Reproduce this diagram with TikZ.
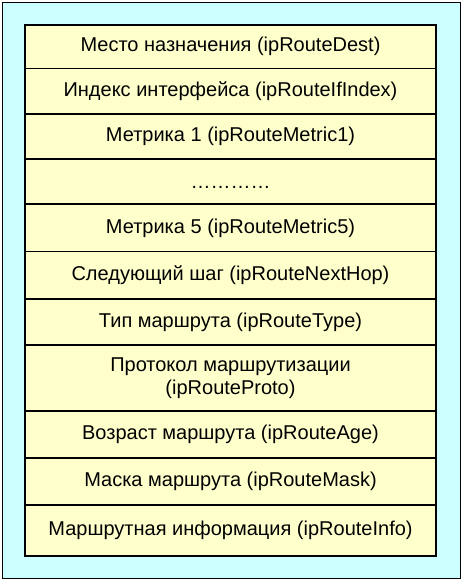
\documentclass[tikz,border=0pt]{standalone}
\usepackage{fontspec}
\setmainfont{Liberation Sans}
\definecolor{bgcyan}{HTML}{CCFFFF}
\definecolor{rowyel}{HTML}{FFFFCC}
\begin{document}
\begin{tikzpicture}[x=1pt,y=-1pt,
  cell/.style={font=\fontsize{20}{23}\selectfont, align=center, inner sep=0pt}]
\useasboundingbox (0,0) rectangle (464,581);
\draw[fill=bgcyan, line width=1pt] (2,2) rectangle (460.5,578.5);
\fill[rowyel] (25,25) rectangle (436,556);
\foreach \y in {68.5,114,159,204,251.5,299,345,411,458,505}
  \draw[line width=1.3pt] (25,\y) -- (436,\y);
\draw[line width=2.6pt] (25,25) rectangle (436,556);
\node[cell] (r1) at (230.5,46.5) {Место назначения (ipRouteDest)};
\node[cell] (r2) at (230.5,91.5) {Индекс интерфейса (ipRouteIfIndex)};
\node[cell] (r3) at (230.5,136.5) {Метрика 1 (ipRouteMetric1)};
\node[cell, anchor=base] (r4) at (230.5,188) {…………};
\node[cell] (r5) at (230.5,228) {Метрика 5 (ipRouteMetric5)};
\node[cell] (r6) at (230.5,275) {Следующий шаг (ipRouteNextHop)};
\node[cell] (r7) at (230.5,322) {Тип маршрута (ipRouteType)};
\node[cell] (r8) at (230.5,378) {Протокол маршрутизации\\(ipRouteProto)};
\node[cell] (r9) at (230.5,434.5) {Возраст маршрута (ipRouteAge)};
\node[cell] (r10) at (230.5,481.5) {Маска маршрута (ipRouteMask)};
\node[cell] (r11) at (230.5,530.5) {Маршрутная информация (ipRouteInfo)};
\end{tikzpicture}
\end{document}
